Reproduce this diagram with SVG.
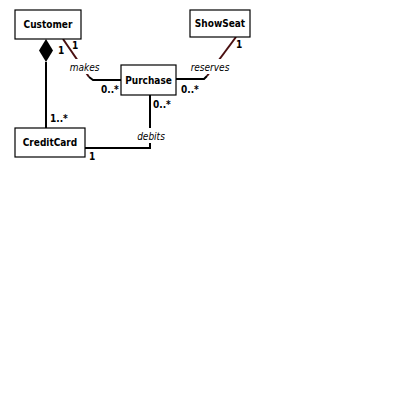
<svg xmlns="http://www.w3.org/2000/svg" width="420" height="420" viewBox="0 0 420 420">
<style>
.box{fill:#fff;stroke:#000;stroke-width:1.2}
.name{font-family:"DejaVu Sans Condensed","Liberation Sans Narrow",sans-serif;font-weight:bold;font-size:10px;fill:#000;text-anchor:middle}
.lbl{font-family:"DejaVu Sans Condensed","Liberation Sans",sans-serif;font-style:italic;font-size:10px;fill:#000;text-anchor:middle}
.mult{font-family:"DejaVu Sans Condensed","Liberation Sans",sans-serif;font-weight:bold;font-size:10px;fill:#000}
.ln{fill:none;stroke:#000;stroke-width:2}
.dg{fill:none;stroke:#4a0f10;stroke-width:2}
.bg{fill:#fff}
</style>
<rect width="420" height="420" fill="#fff"/>
<g id="connectors">
<path class="ln" d="M46,62 L46,128"/>
<polygon points="46,39 53,50.5 46,62 39,50.5" fill="#000"/>
<path class="dg" d="M63,39 L89,77"/>
<path class="ln" d="M89,77 L93,80 L121,80"/>
<path class="dg" d="M236,37 L207,76"/>
<path class="ln" d="M207,76 L204,79 L176,79"/>
<path class="ln" d="M150,95 L150,148 L85,148"/>
<rect class="bg" x="69" y="59" width="31" height="15"/>
<rect class="bg" x="188" y="59" width="44" height="15"/>
<rect class="bg" x="136" y="128" width="31" height="15"/>
<text class="lbl" x="84.5" y="71">makes</text>
<text class="lbl" x="210" y="71">reserves</text>
<text class="lbl" x="151" y="140">debits</text>
<text class="mult" x="58" y="54">1</text>
<text class="mult" x="72" y="49">1</text>
<text class="mult" x="101" y="93">0..*</text>
<text class="mult" x="181" y="93">0..*</text>
<text class="mult" x="236" y="48">1</text>
<text class="mult" x="153" y="108">0..*</text>
<text class="mult" x="50" y="122">1..*</text>
<text class="mult" x="89" y="160">1</text>
</g>
<g id="Customer"><rect class="box" x="15" y="10" width="66" height="29"/><text class="name" x="48" y="28">Customer</text></g>
<g id="ShowSeat"><rect class="box" x="190" y="10" width="60" height="27"/><text class="name" x="220" y="27">ShowSeat</text></g>
<g id="Purchase"><rect class="box" x="121" y="65" width="55" height="30"/><text class="name" x="148.5" y="84">Purchase</text></g>
<g id="CreditCard"><rect class="box" x="15" y="128" width="70" height="29"/><text class="name" x="50" y="146">CreditCard</text></g>
</svg>
